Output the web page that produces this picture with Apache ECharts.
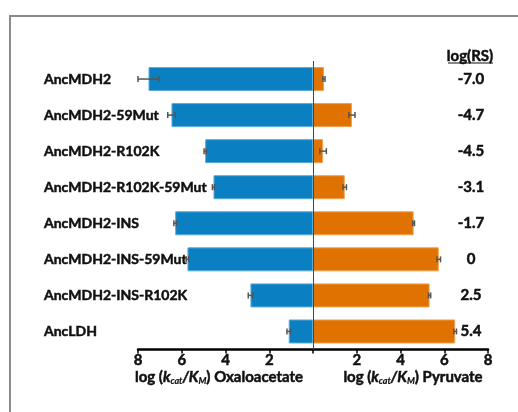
<!DOCTYPE html>
<html>
<head>
<meta charset="utf-8">
<script src="https://cdn.jsdelivr.net/npm/echarts@6/dist/echarts.min.js"></script>
<style>html,body{margin:0;padding:0;background:#fff}#c{width:518px;height:412px}</style>
</head>
<body>
<div id="c"></div>
<script>
const categories = ['AncMDH2','AncMDH2-59Mut','AncMDH2-R102K','AncMDH2-R102K-59Mut','AncMDH2-INS','AncMDH2-INS-59Mut','AncMDH2-INS-R102K','AncLDH'];
const oxaloacetate = [7.52, 6.47, 4.93, 4.55, 6.30, 5.74, 2.86, 1.11];
const oxaloacetateErr = [0.48, 0.17, 0.05, 0.05, 0.06, 0.06, 0.10, 0.08];
const pyruvate = [0.50, 1.78, 0.46, 1.45, 4.60, 5.75, 5.33, 6.50];
const pyruvateErr = [0.05, 0.14, 0.15, 0.08, 0.04, 0.08, 0.05, 0.06];
const logRS = ['-7.0','-4.7','-4.5','-3.1','-1.7','0','2.5','5.4'];
const xTicks = [-8, -6, -4, -2, 0, 2, 4, 6, 8];

const FONT = 'Lato';
const HEAVY = {textBorderColor: '#111', textBorderWidth: 0.5};
const errData = [];
categories.forEach((c, i) => {
  errData.push([-oxaloacetate[i], i, oxaloacetateErr[i]]);
  errData.push([pyruvate[i], i, pyruvateErr[i]]);
});

const chart = echarts.init(document.getElementById('c'));
const base = {fontFamily: FONT, fontWeight: 'bold', fill: '#111', stroke: '#111', lineWidth: 0.5, lineHeight: 18};
const titleRich = {
  a: Object.assign({}, base, {fontSize: 15}),
  i: Object.assign({}, base, {fontSize: 15, fontStyle: 'italic'}),
  s: Object.assign({}, base, {fontSize: 9, fontStyle: 'italic', lineWidth: 0.2, verticalAlign: 'bottom', padding: [6, 0, 0, 0]})
};
chart.setOption({
  animation: false,
  grid: {left: 138, right: 30, top: 61, bottom: 62.5},
  xAxis: {
    type: 'value', min: -8, max: 8, interval: 2,
    splitLine: {show: false},
    axisLine: {show: true, lineStyle: {color: '#000', width: 2.5}},
    axisTick: {show: true, length: 4, lineStyle: {color: '#000', width: 1.5},
      customValues: xTicks},
    axisLabel: Object.assign({fontFamily: FONT, fontWeight: 'bold', fontSize: 15, color: '#111', margin: 3,
      formatter: v => v === 0 ? '' : String(Math.abs(v))}, HEAVY)
  },
  yAxis: [{
    type: 'category', data: categories, inverse: true,
    axisLine: {show: false}, axisTick: {show: false},
    axisLabel: Object.assign({align: 'left', margin: 94, fontFamily: FONT, fontWeight: 'bold', fontSize: 14, color: '#111'}, HEAVY)
  }, {
    type: 'category', data: logRS, inverse: true, position: 'right', offset: -17,
    axisLine: {show: false}, axisTick: {show: false},
    axisLabel: Object.assign({align: 'center', margin: 0, fontFamily: FONT, fontWeight: 'bold', fontSize: 15, color: '#111'}, HEAVY)
  }],
  series: [{
    type: 'bar', data: oxaloacetate.map(v => -v), barWidth: 24, barGap: '-100%',
    itemStyle: {color: '#0A7FC1', borderColor: '#5AAADB', borderWidth: 1},
    markLine: {silent: true, symbol: 'none', label: {show: false},
      lineStyle: {color: '#444', width: 1, type: 'solid'}, data: [{xAxis: 0}]}
  }, {
    type: 'bar', data: pyruvate, barWidth: 24, barGap: '-100%',
    itemStyle: {color: '#DF7200', borderColor: '#F0A050', borderWidth: 1}
  }, {
    type: 'custom', data: errData, z: 10,
    renderItem: (params, api) => {
      const v = api.value(0), c = api.value(1), e = api.value(2);
      const p1 = api.coord([v - e, c]), p2 = api.coord([v + e, c]);
      const h = 3;
      const st = {stroke: '#555', lineWidth: 1.5};
      return {type: 'group', children: [
        {type: 'line', shape: {x1: p1[0], y1: p1[1], x2: p2[0], y2: p2[1]}, style: st},
        {type: 'line', shape: {x1: p1[0], y1: p1[1] - h, x2: p1[0], y2: p1[1] + h}, style: st},
        {type: 'line', shape: {x1: p2[0], y1: p2[1] - h, x2: p2[0], y2: p2[1] + h}, style: st}
      ]};
    }
  }],
  graphic: [
    {type: 'rect', shape: {x: 10, y: 16, width: 540, height: 420}, style: {fill: 'none', stroke: '#8a8a8a', lineWidth: 2}},
    {type: 'text', x: 470, y: 56, style: {text: 'log(RS)', fontFamily: FONT, fontWeight: 'bold', fontSize: 15, fill: '#111', align: 'center', verticalAlign: 'middle', stroke: '#111', lineWidth: 0.5}},
    {type: 'line', shape: {x1: 448, y1: 63, x2: 493, y2: 63}, style: {stroke: '#111', lineWidth: 1.2}},
    {type: 'text', x: 219, y: 377, style: {text: '{a|log (}{i|k}{s|cat}{i|/K}{s|M}{a|) Oxaloacetate}', rich: titleRich, align: 'center', verticalAlign: 'middle'}},
    {type: 'text', x: 413, y: 377, style: {text: '{a|log (}{i|k}{s|cat}{i|/K}{s|M}{a|) Pyruvate}', rich: titleRich, align: 'center', verticalAlign: 'middle'}}
  ]
});
</script>
</body>
</html>
